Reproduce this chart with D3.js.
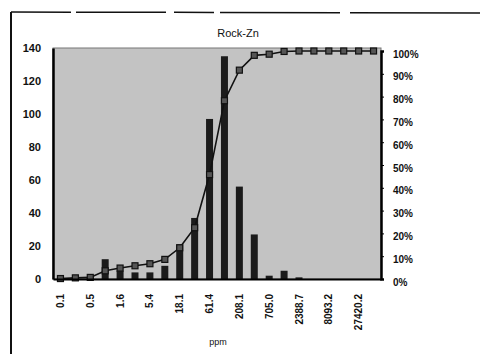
<!DOCTYPE html>
<html>
<head>
<meta charset="utf-8">
<script src="https://cdn.jsdelivr.net/npm/d3@7"></script>
<style>
  body { margin: 0; background: #fff; }
  text { font-family: "Liberation Sans", Arial, sans-serif; fill: #111; }
</style>
</head>
<body>
<svg id="chart"></svg>
<script>
const width = 480;
const height = 354;

// bins (ppm), only every other one gets a label
const categories = ['0.1', '0.3', '0.5', '0.9', '1.6', '2.9', '5.4', '9.9', '18.1', '33.3', '61.4',
  '113.0', '208.1', '383.1', '705.0', '1297.6', '2388.7', '4397.6', '8093.2', '14899.4', '27420.2', 'More'];
const counts = [1, 1, 1, 12, 5, 4, 4, 8, 21, 37, 97, 135, 56, 27, 2, 5, 1, 0, 0, 0, 0, 0];
const cumulative = [0.2, 0.5, 0.7, 3.6, 4.8, 5.8, 6.7, 8.6, 13.7, 22.5, 45.8, 78.2, 91.6, 98.1, 98.6, 99.8,
  100, 100, 100, 100, 100, 100];
const leftTicks = [0, 20, 40, 60, 80, 100, 120, 140];
const rightTicks = [0, 10, 20, 30, 40, 50, 60, 70, 80, 90, 100];

const plot = { left: 53, right: 381, top: 48, bottom: 279 };

const svg = d3.select('#chart')
  .attr('width', width)
  .attr('height', height);

// scanned page frame
svg.append('line')
  .attr('x1', 11).attr('x2', 480).attr('y1', 12).attr('y2', 13)
  .attr('stroke', '#111').attr('stroke-width', 1.5)
  .attr('stroke-dasharray', '60,5,90,8,40,6,120,10,200');
svg.append('line')
  .attr('x1', 11).attr('x2', 11).attr('y1', 12).attr('y2', 354)
  .attr('stroke', '#111').attr('stroke-width', 2);

svg.append('text')
  .attr('x', 238).attr('y', 37)
  .attr('text-anchor', 'middle')
  .style('font-size', '11px')
  .text('Rock-Zn');

const x = d3.scaleBand()
  .domain(categories)
  .range([plot.left, plot.right]);

const y = d3.scaleLinear()
  .domain([0, 140])
  .range([plot.bottom, plot.top]);

const y2 = d3.scaleLinear()
  .domain([0, 100])
  .range([plot.bottom, plot.top + 3]);

// plot area
svg.append('rect')
  .attr('x', plot.left).attr('y', plot.top)
  .attr('width', plot.right - plot.left)
  .attr('height', plot.bottom - plot.top)
  .attr('fill', '#c3c3c3')
  .attr('stroke', '#777');

// bars
const barW = 7;
svg.append('g')
  .selectAll('rect')
  .data(counts)
  .enter()
  .append('rect')
  .attr('x', (d, i) => x(categories[i]) + x.bandwidth() / 2 - barW / 2)
  .attr('y', (d) => y(d))
  .attr('width', barW)
  .attr('height', (d) => plot.bottom - y(d))
  .attr('fill', '#1b1b1b');

// cumulative line
const line = d3.line()
  .x((d, i) => x(categories[i]) + x.bandwidth() / 2)
  .y((d) => y2(d));

svg.append('path')
  .datum(cumulative)
  .attr('d', line)
  .attr('fill', 'none')
  .attr('stroke', '#111')
  .attr('stroke-width', 1.6);

svg.append('g')
  .selectAll('rect')
  .data(cumulative)
  .enter()
  .append('rect')
  .attr('x', (d, i) => x(categories[i]) + x.bandwidth() / 2 - 3)
  .attr('y', (d) => y2(d) - 3)
  .attr('width', 6)
  .attr('height', 6)
  .attr('fill', '#555')
  .attr('stroke', '#111')
  .attr('stroke-width', 1.2);

// axes
const leftAxis = d3.axisLeft(y).tickValues(leftTicks).tickSize(0).tickPadding(12);
const gl = svg.append('g')
  .attr('transform', `translate(${plot.left},0)`)
  .call(leftAxis);
gl.select('.domain').attr('stroke', '#000').attr('stroke-width', 2.5);
gl.selectAll('text').style('font-size', '11px').style('font-weight', 'bold');

const rightAxis = d3.axisRight(y2).tickValues(rightTicks).tickSize(3).tickPadding(9)
  .tickFormat((d) => d + '%');
const gr = svg.append('g')
  .attr('transform', `translate(${plot.right},0)`)
  .call(rightAxis);
gr.select('.domain').attr('stroke', '#000').attr('stroke-width', 2.5);
gr.selectAll('text').attr('dy', '0.6em').style('font-size', '10px').style('font-weight', 'bold');

const bottomAxis = d3.axisBottom(x)
  .tickValues(categories.filter((d, i) => i % 2 === 0))
  .tickSize(0)
  .tickPadding(0);
const gb = svg.append('g')
  .attr('transform', `translate(0,${plot.bottom})`)
  .call(bottomAxis);
gb.select('.domain').attr('stroke', '#000').attr('stroke-width', 2);
gb.selectAll('text')
  .attr('transform', 'rotate(-90)')
  .attr('x', -15)
  .attr('y', 0)
  .attr('dy', '0.35em')
  .attr('text-anchor', 'end')
  .style('font-size', '10px')
  .style('font-weight', 'bold');

svg.append('text')
  .attr('x', 218).attr('y', 345)
  .attr('text-anchor', 'middle')
  .style('font-size', '9px')
  .text('ppm');
</script>
</body>
</html>
